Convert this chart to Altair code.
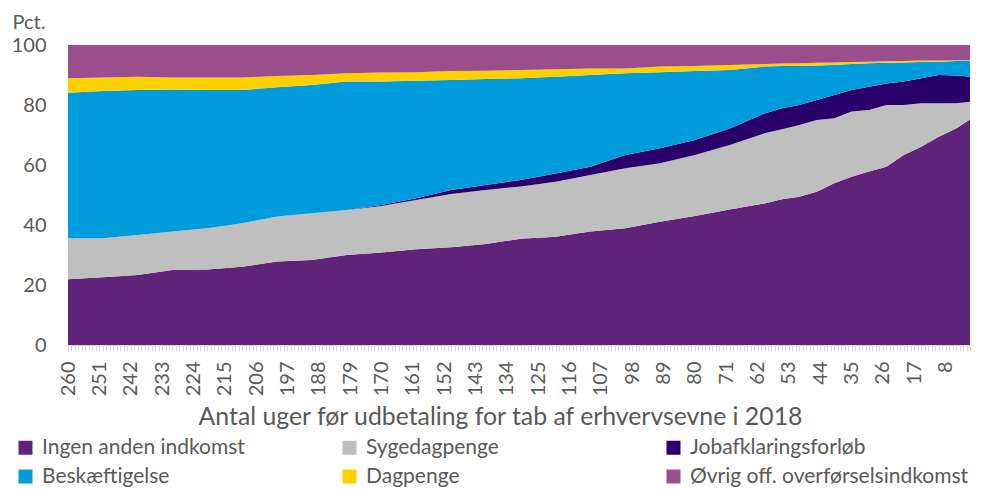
import altair as alt
import pandas as pd

# Weeks before payout
weeks = [260, 250, 240, 230, 220, 210, 200, 190, 180, 170, 160, 150, 140, 130,
         120, 110, 100, 90, 80, 70, 60, 55, 50, 45, 40, 35, 30, 25, 20, 15, 10, 5, 1]

categories = ["Ingen anden indkomst", "Sygedagpenge", "Jobafklaringsforløb",
              "Beskæftigelse", "Dagpenge", "Øvrig off. overførselsindkomst"]
colors = ["#5F247A", "#BFBFBF", "#29006A", "#009BDA", "#FFD000", "#9B4E8C"]

ingen = [21.9, 22.6, 23.3, 25.0, 25.2, 26.1, 27.8, 28.3, 30.0, 30.8, 31.9, 32.6, 33.7, 35.4,
         36.1, 37.8, 38.9, 41.1, 43.0, 45.2, 47.2, 48.6, 49.4, 51.1, 53.9, 56.1, 57.8, 59.4,
         63.3, 66.1, 69.4, 72.2, 75.2]
syge = [13.7, 13.0, 13.4, 12.8, 13.7, 14.5, 15.0, 15.6, 15.0, 15.5, 16.4, 17.7, 18.0, 17.4,
        18.3, 18.9, 20.0, 19.5, 20.3, 21.5, 23.4, 23.3, 23.9, 23.9, 21.7, 21.7, 20.5, 20.6,
        16.7, 14.5, 11.2, 8.4, 5.9]
job = [0.0, 0.0, 0.0, 0.0, 0.0, 0.0, 0.0, 0.0, 0.0, 0.4, 0.6, 1.4, 1.6, 2.2,
       2.8, 2.7, 4.4, 5.0, 5.0, 5.5, 6.6, 7.0, 6.7, 6.7, 7.7, 7.2, 7.8, 7.2,
       7.8, 8.3, 9.4, 9.2, 8.3]
besk = [48.5, 49.1, 48.3, 47.4, 46.1, 44.4, 43.1, 42.8, 42.8, 41.1, 39.2, 36.6, 35.4, 33.9,
        32.2, 30.6, 27.3, 25.3, 23.0, 19.5, 15.6, 14.1, 13.0, 11.5, 10.0, 8.7, 7.8, 6.9,
        6.4, 5.4, 4.4, 4.9, 5.4]
dag = [4.8, 4.5, 4.4, 4.0, 4.2, 4.2, 3.8, 3.3, 2.8, 3.0, 2.8, 3.0, 2.7, 2.8,
       2.5, 2.2, 1.6, 1.9, 1.7, 1.6, 0.9, 0.8, 0.9, 0.9, 0.9, 0.6, 0.5, 0.5,
       0.5, 0.5, 0.4, 0.2, 0.2]
ovrig = [11.1, 10.8, 10.6, 10.8, 10.8, 10.8, 10.3, 10.0, 9.4, 9.2, 9.1, 8.7, 8.6, 8.3,
         8.1, 7.8, 7.8, 7.2, 7.0, 6.7, 6.3, 6.2, 6.1, 5.9, 5.8, 5.7, 5.6, 5.4,
         5.3, 5.2, 5.2, 5.1, 5.0]

series = [ingen, syge, job, besk, dag, ovrig]

tick_weeks = list(range(260, 0, -1))
tick_labels = [260, 251, 242, 233, 224, 215, 206, 197, 188, 179, 170, 161, 152, 143,
               134, 125, 116, 107, 98, 89, 80, 71, 62, 53, 44, 35, 26, 17, 8]
y_ticks = [0, 20, 40, 60, 80, 100]

rows = []
for i, w in enumerate(weeks):
    for k, (name, arr) in enumerate(zip(categories, series)):
        rows.append({"uge": w, "kategori": name, "pct": arr[i], "orden": k})
df = pd.DataFrame(rows)

FONT = "Lato"
GREY = "#595959"
label_set = ",".join(str(v) for v in tick_labels)

chart = alt.Chart(df).mark_area(interpolate="linear").encode(
    x=alt.X(
        "uge:Q",
        scale=alt.Scale(domain=[1, 260], reverse=True, nice=False, zero=False),
        axis=alt.Axis(
            values=tick_weeks,
            labelExpr=f"indexof([{label_set}], datum.value) >= 0 ? datum.label : ''",
            labelAngle=-90,
            labelOverlap=False,
            labelFlush=False,
            labelBound=False,
            labelFont=FONT,
            labelFontSize=20,
            labelColor=GREY,
            labelPadding=10,
            tickColor="#D9D9D9",
            tickSize=6,
            tickWidth=1,
            domainColor="#D9D9D9",
            grid=False,
            title="Antal uger før udbetaling for tab af erhvervsevne i 2018",
            titleFont=FONT,
            titleFontSize=24.8,
            titleFontWeight="normal",
            titleColor=GREY,
            titleX=432,
            titleY=79,
            titleAlign="center",
            titleBaseline="alphabetic",
        ),
    ),
    y=alt.Y(
        "pct:Q",
        stack="zero",
        scale=alt.Scale(domain=[0, 100], nice=False),
        axis=alt.Axis(
            values=y_ticks,
            grid=False,
            domain=False,
            ticks=False,
            labelFont=FONT,
            labelFontSize=20,
            labelColor=GREY,
            labelPadding=22,
            title="Pct.",
            titleAngle=0,
            titleAlign="left",
            titleBaseline="alphabetic",
            titleX=-56,
            titleY=-17,
            titleFont=FONT,
            titleFontSize=20,
            titleFontWeight="normal",
            titleColor=GREY,
        ),
    ),
    color=alt.Color(
        "kategori:N",
        sort=categories,
        scale=alt.Scale(domain=categories, range=colors),
        legend=alt.Legend(
            title=None,
            orient="none",
            legendX=-53,
            legendY=392,
            columns=3,
            direction="horizontal",
            gridAlign="all",
            columnPadding=18,
            rowPadding=7,
            symbolType="square",
            symbolSize=196,
            symbolStrokeWidth=0,
            labelFont=FONT,
            labelFontSize=21,
            labelColor=GREY,
            labelOffset=6,
            labelLimit=400,
            padding=0,
        ),
    ),
    order=alt.Order("orden:Q", sort="ascending"),
).properties(
    width=902,
    height=300,
    padding={"left": 60, "top": 37, "right": 6, "bottom": 144},
    autosize=alt.AutoSizeParams(type="none"),
).configure_view(stroke=None)

chart.save("out.html", embed_options={"renderer": "svg", "actions": False})
